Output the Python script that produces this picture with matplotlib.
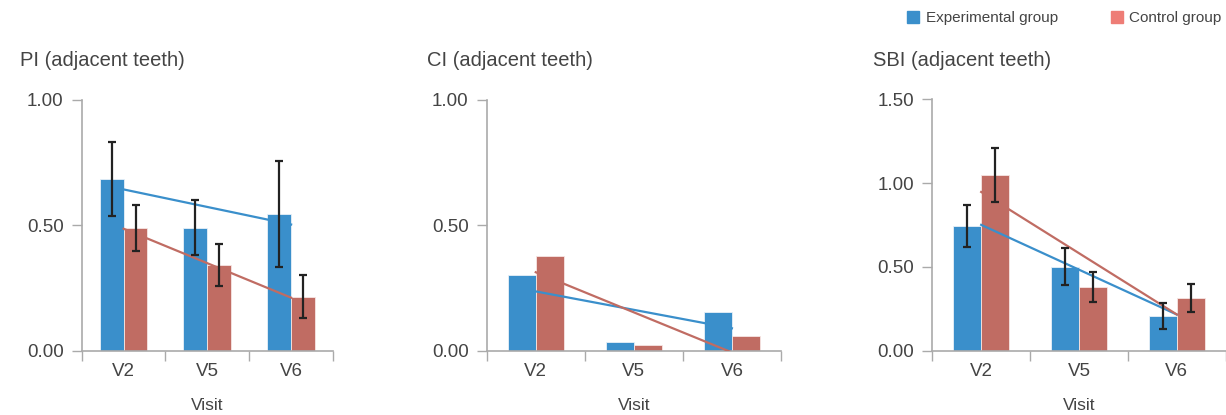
import numpy as np
import matplotlib
matplotlib.use("Agg")
import matplotlib.pyplot as plt
from matplotlib.patches import Patch
from matplotlib.ticker import FormatStrFormatter, FixedLocator

plt.rcParams['font.family'] = ['Liberation Sans', 'DejaVu Sans']

# visit labels and group means / SDs
visits = ['V2', 'V5', 'V6']

pi_exp = [0.685, 0.49, 0.545]
pi_exp_err = [0.148, 0.11, 0.21]
pi_ctrl = [0.49, 0.342, 0.215]
pi_ctrl_err = [0.093, 0.085, 0.085]

ci_exp = [0.30, 0.036, 0.153]
ci_ctrl = [0.379, 0.021, 0.059]

sbi_exp = [0.742, 0.501, 0.207]
sbi_exp_err = [0.125, 0.11, 0.078]
sbi_ctrl = [1.047, 0.382, 0.316]
sbi_ctrl_err = [0.16, 0.09, 0.083]

titles = ['PI (adjacent teeth)', 'CI (adjacent teeth)', 'SBI (adjacent teeth)']
ymaxes = [1.0, 1.0, 1.5]

blue = '#3a8fcb'
red = '#c06c63'
red_legend = '#ee7d76'
grey = '#aaaaaa'
text_col = '#444444'

W, H = 1226, 415
fig = plt.figure(figsize=(W / 100, H / 100), dpi=100)

# axes boxes in pixels: left, right, top, bottom
boxes = [(81.7, 333, 100, 350.7),
         (486.7, 781, 100, 350.7),
         (932.3, 1225.7, 99.3, 350.7)]
title_x = [20, 427, 873]

panels = [(pi_exp, pi_exp_err, pi_ctrl, pi_ctrl_err),
          (ci_exp, None, ci_ctrl, None),
          (sbi_exp, sbi_exp_err, sbi_ctrl, sbi_ctrl_err)]

x = np.arange(len(visits))
bw = 0.285

for i, (exp, exp_err, ctrl, ctrl_err) in enumerate(panels):
    l, r, t, b = boxes[i]
    ax = fig.add_axes([l / W, 1 - b / H, (r - l) / W, (b - t) / H])

    ax.bar(x - bw / 2, exp, bw, color=blue, edgecolor='#e8f1f8', linewidth=0.6, zorder=2)
    ax.bar(x + bw / 2, ctrl, bw, color=red, edgecolor='#f6e6e4', linewidth=0.6, zorder=2)

    # linear trend lines across visits
    for vals, col in ((exp, blue), (ctrl, red)):
        k, c = np.polyfit(x, vals, 1)
        ax.plot(x, k * x + c, color=col, lw=1.6, zorder=3)

    if exp_err is not None:
        ax.errorbar(x - bw / 2, exp, yerr=exp_err, fmt='none', ecolor='#222222',
                    elinewidth=1.6, capsize=3.2, capthick=1.6, zorder=4)
        ax.errorbar(x + bw / 2, ctrl, yerr=ctrl_err, fmt='none', ecolor='#222222',
                    elinewidth=1.6, capsize=3.2, capthick=1.6, zorder=4)

    ax.set_xlim(-0.5, len(visits) - 0.5)
    ax.set_ylim(0, ymaxes[i])
    ax.set_yticks(np.arange(0, ymaxes[i] + 0.01, 0.5))
    ax.yaxis.set_major_formatter(FormatStrFormatter('%.2f'))
    ax.set_xticks(x)
    ax.set_xticklabels(visits)
    ax.xaxis.set_minor_locator(FixedLocator(np.arange(-0.5, len(visits), 1.0)))

    ax.tick_params(axis='y', length=7, width=1, color=grey, pad=6,
                   labelsize=13.5, labelcolor=text_col)
    ax.tick_params(axis='x', which='major', length=0, pad=9,
                   labelsize=13.5, labelcolor=text_col)
    ax.tick_params(axis='x', which='minor', length=7, width=1, color=grey)

    for side in ('top', 'right'):
        ax.spines[side].set_visible(False)
    for side in ('left', 'bottom'):
        ax.spines[side].set_color(grey)
        ax.spines[side].set_linewidth(1.2)

    ax.set_xlabel('Visit', fontsize=12.5, color=text_col, labelpad=13)

    fig.text(title_x[i] / W, 1 - 60 / H, titles[i], fontsize=14.5,
             color=text_col, ha='left', va='center')

handles = [Patch(color=blue, label='Experimental group'),
           Patch(color=red_legend, label='Control group')]
fig.legend(handles=handles, loc='upper right', bbox_to_anchor=(1.004, 0.995),
           ncol=2, frameon=False, fontsize=11, handlelength=0.75,
           handleheight=0.75, handletextpad=0.45, columnspacing=3.5,
           labelcolor=text_col, borderaxespad=0.2)

fig.savefig('out.png', dpi=100)
